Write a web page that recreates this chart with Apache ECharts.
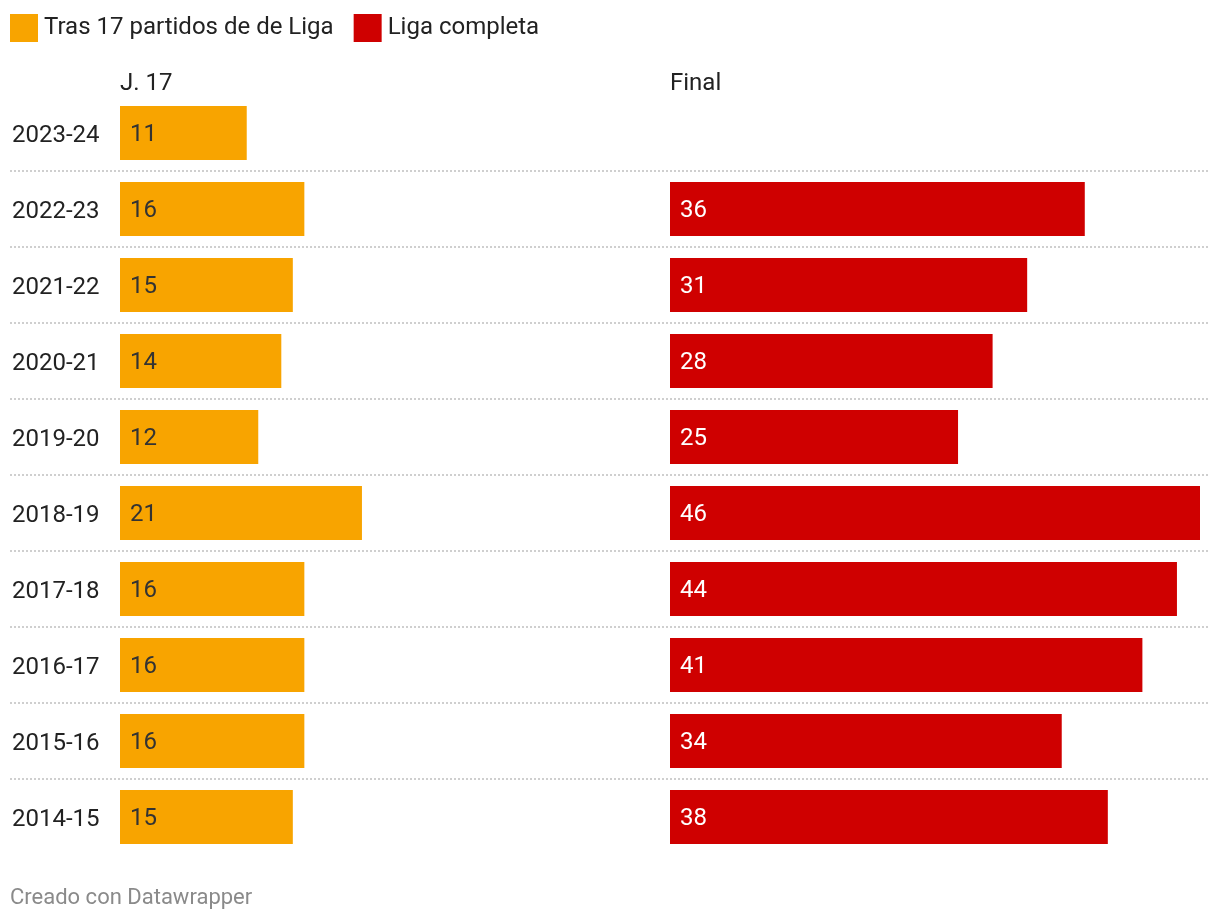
<!DOCTYPE html>
<html>
<head>
<meta charset="utf-8">
<script src="https://cdn.jsdelivr.net/npm/echarts@6/dist/echarts.min.js"></script>
<style>
  html, body { margin: 0; padding: 0; background: #fff; }
  #chart { width: 1220px; height: 922px; }
</style>
</head>
<body>
<div id="chart"></div>
<script>
const seasons = ['2023-24','2022-23','2021-22','2020-21','2019-20','2018-19','2017-18','2016-17','2015-16','2014-15'];
const afterJ17 = [11, 16, 15, 14, 12, 21, 16, 16, 16, 15];
const fullLeague = [null, 36, 31, 28, 25, 46, 44, 41, 34, 38];
const seriesNames = ['Tras 17 partidos de de Liga', 'Liga completa'];
const columnTitles = ['J. 17', 'Final'];
const footerText = 'Creado con Datawrapper';

const ORANGE = '#f8a400';
const RED = '#cf0000';
const FONT = 'Roboto, "Noto Sans", sans-serif';
const MAXV = 46;

const chart = echarts.init(document.getElementById('chart'), null, { renderer: 'canvas' });

const option = {
  backgroundColor: '#fff',
  animation: false,
  textStyle: { fontFamily: FONT },
  legend: {
    left: 5, top: 9,
    itemWidth: 28, itemHeight: 28, itemGap: 20,
    icon: 'rect',
    textStyle: { fontSize: 24, color: '#222', fontFamily: FONT, padding: [0, 0, 5, 1] },
    data: seriesNames
  },
  grid: [
    { left: 120, width: 530, top: 95, height: 760 },
    { left: 670, width: 530, top: 95, height: 760 },
    { left: 10, right: 12, top: 171, height: 608 },
    { left: 120, width: 530, top: 98, height: 760 }
  ],
  xAxis: [
    { gridIndex: 0, type: 'value', min: 0, max: MAXV, show: false },
    { gridIndex: 1, type: 'value', min: 0, max: MAXV, show: false },
    { gridIndex: 2, type: 'value', min: 0, max: 1, show: false },
    { gridIndex: 3, type: 'value', min: 0, max: 1, show: false }
  ],
  yAxis: [
    {
      gridIndex: 0, type: 'category', data: seasons, inverse: true,
      axisLine: { show: false }, axisTick: { show: false }, splitLine: { show: false }, axisLabel: { show: false }
    },
    {
      gridIndex: 1, type: 'category', data: seasons, inverse: true,
      axisLine: { show: false }, axisTick: { show: false }, axisLabel: { show: false }
    },
    {
      gridIndex: 2, type: 'value', min: 0, max: seasons.length - 2, interval: 1,
      axisLine: { show: false }, axisTick: { show: false }, axisLabel: { show: false },
      splitLine: { show: true, lineStyle: { color: '#cfcfcf', width: 2, type: [2, 2] } }
    },
    {
      gridIndex: 3, type: 'category', data: seasons, inverse: true,
      axisLine: { show: false }, axisTick: { show: false }, splitLine: { show: false },
      axisLabel: { align: 'left', margin: 108, fontSize: 24, color: '#222', fontFamily: FONT }
    }
  ],
  series: [
    {
      name: seriesNames[0], type: 'bar', xAxisIndex: 0, yAxisIndex: 0,
      data: afterJ17, barWidth: 54,
      itemStyle: { color: ORANGE },
      label: { show: true, position: 'insideLeft', distance: 10, offset: [0, 2], fontSize: 24, color: '#333', fontFamily: FONT }
    },
    {
      name: seriesNames[1], type: 'bar', xAxisIndex: 1, yAxisIndex: 1,
      data: fullLeague, barWidth: 54,
      itemStyle: { color: RED },
      label: { show: true, position: 'insideLeft', distance: 10, offset: [0, 2], fontSize: 24, color: '#fff', fontFamily: FONT }
    }
  ],
  graphic: [
    { type: 'text', left: 120, top: 72, style: { text: columnTitles[0], fontSize: 24, fill: '#222', fontFamily: FONT } },
    { type: 'text', left: 670, top: 72, style: { text: columnTitles[1], fontSize: 24, fill: '#222', fontFamily: FONT } },
    { type: 'text', left: 10, top: 887, style: { text: footerText, fontSize: 22, fill: '#8a8a8a', fontFamily: FONT } }
  ]
};

chart.setOption(option);
</script>
</body>
</html>
